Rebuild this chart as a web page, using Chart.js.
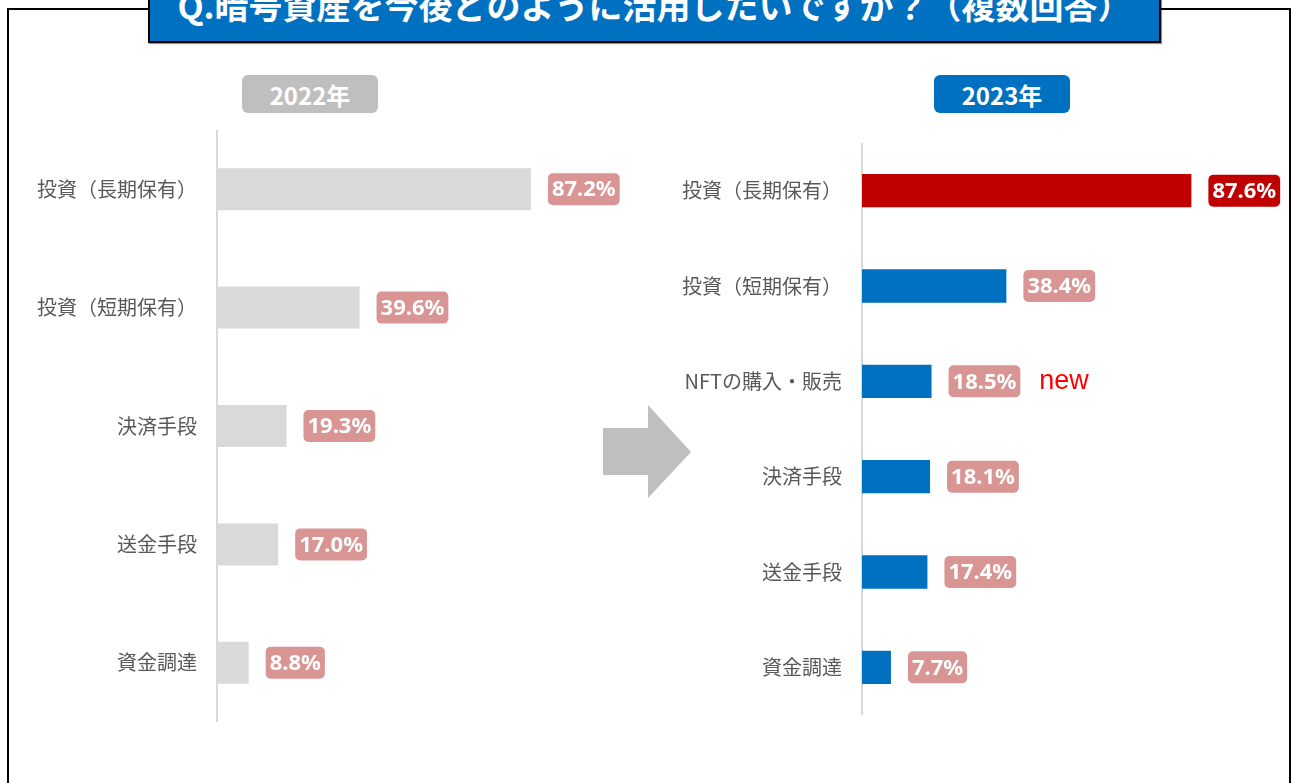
<!DOCTYPE html>
<html lang="ja">
<head>
<meta charset="utf-8">
<script src="https://cdn.jsdelivr.net/npm/chart.js@4/dist/chart.umd.min.js"></script>
<style>
  html, body { margin: 0; padding: 0; background: #fff; }
  body { width: 1292px; height: 783px; position: relative; overflow: hidden; font-family: "Noto Sans CJK JP", "Noto Sans", sans-serif; }
  .frame { position: absolute; left: 7px; top: 8px; width: 1280px; height: 900px; border: 2px solid #000; }
  .title { position: absolute; left: 148px; top: -26px; width: 1009px; height: 65px; background: #0070C0; border: 2px solid #000;
           color: #fff; font-weight: bold; font-size: 34px; display: flex; align-items: center; justify-content: center; white-space: nowrap;
           box-shadow: 1px 1px 1px rgba(0,0,0,0.4); }
  .title span { position: relative; top: -4px; }
  .badge { position: absolute; top: 75px; width: 136px; height: 38px; border-radius: 6px; color: #fff; font-weight: bold; font-size: 24px;
           display: flex; align-items: center; justify-content: center; }
  .arrow { position: absolute; left: 603px; top: 405px; }
  canvas.chart { position: absolute; }
</style>
</head>
<body>
<div class="frame"></div>
<div class="title"><span>Q.暗号資産を今後どのように活用したいですか？（複数回答）</span></div>
<div class="badge" style="left:242px; background:#BFBFBF;">2022年</div>
<div class="badge" style="left:934px; background:#0070C0;">2023年</div>
<svg class="arrow" width="90" height="94"><polygon points="0,23 45,23 45,0 88,47 45,93 45,70 0,70" fill="#BFBFBF"/></svg>

<canvas class="chart" id="chart2022" width="640" height="592" style="left:0; top:130px;"></canvas>
<canvas class="chart" id="chart2023" width="638" height="572" style="left:650px; top:143px;"></canvas>

<script>
const categories2022 = ['投資（長期保有）', '投資（短期保有）', '決済手段', '送金手段', '資金調達'];
const values2022 = [87.2, 39.6, 19.3, 17.0, 8.8];

const categories2023 = ['投資（長期保有）', '投資（短期保有）', 'NFTの購入・販売', '決済手段', '送金手段', '資金調達'];
const values2023 = [87.6, 38.4, 18.5, 18.1, 17.4, 7.7];
const newFlags2023 = [false, false, true, false, false, false];

// rounded value boxes + "new" marks drawn after the bars
const valueLabels = {
  id: 'valueLabels',
  afterDatasetsDraw(chart, args, opts) {
    const ctx = chart.ctx;
    const meta = chart.getDatasetMeta(0);
    const data = chart.data.datasets[0].data;
    const font = 'bold 22px "Noto Sans", sans-serif';
    ctx.save();
    ctx.font = font;
    ctx.textBaseline = 'middle';
    meta.data.forEach((bar, i) => {
      const txt = data[i].toFixed(1) + '%';
      const w = ctx.measureText(txt).width + 8;
      const h = 32;
      const x = bar.x + 17;
      const y = bar.y - h / 2;
      ctx.fillStyle = opts.boxColors[i];
      ctx.beginPath();
      ctx.roundRect(x, y, w, h, 5);
      ctx.fill();
      ctx.fillStyle = '#fff';
      ctx.textAlign = 'center';
      ctx.fillText(txt, x + w / 2, bar.y + 1);
      if (opts.flags && opts.flags[i]) {
        ctx.fillStyle = '#FF0000';
        ctx.textAlign = 'left';
        ctx.font = '27px "Liberation Sans", Arial, sans-serif';
        ctx.fillText('new', x + w + 19, bar.y);
        ctx.font = font;
      }
    });
    ctx.restore();
  }
};

function makeChart(id, labels, values, colors, boxColors, axisWidth, padRight, barPct, flags) {
  return new Chart(document.getElementById(id), {
    type: 'bar',
    data: {
      labels: labels,
      datasets: [{ data: values, backgroundColor: colors, barPercentage: barPct, categoryPercentage: 1 }]
    },
    options: {
      indexAxis: 'y',
      responsive: false,
      animation: false,
      layout: { padding: { right: padRight, top: 0, bottom: 0, left: 0 } },
      plugins: {
        legend: { display: false },
        tooltip: { enabled: false },
        valueLabels: { boxColors: boxColors, flags: flags }
      },
      scales: {
        x: { display: false, min: 0, max: 100 },
        y: {
          grid: { display: false, drawTicks: false },
          border: { display: true, color: '#D9D9D9', width: 2 },
          ticks: { color: '#595959', font: { family: '"Noto Sans CJK JP"', size: 20 }, padding: 20 },
          afterFit(scale) {
            scale.width = axisWidth;
            // axis line should run the full canvas height
            scale.paddingTop = 0;
            scale.paddingBottom = 0;
          }
        }
      }
    },
    plugins: [valueLabels]
  });
}

makeChart('chart2022', categories2022, values2022,
  values2022.map(() => '#D9D9D9'),
  values2022.map(() => '#D99594'),
  217, 63, 0.355, null);

makeChart('chart2023', categories2023, values2023,
  values2023.map((v, i) => i === 0 ? '#C00000' : '#0070C0'),
  values2023.map((v, i) => i === 0 ? '#C00000' : '#D99594'),
  212, 50, 0.35, newFlags2023);
</script>
</body>
</html>
